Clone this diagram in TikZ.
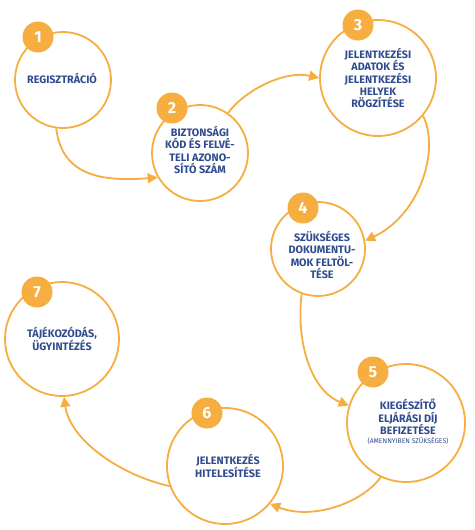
\documentclass[tikz,border=0pt]{standalone}
\usepackage{fontspec}
\setmainfont{Fira Sans}
\usetikzlibrary{arrows.meta}
\definecolor{orng}{HTML}{F5AE3F}
\definecolor{txtblue}{HTML}{2F4C8E}
\begin{document}
\begin{tikzpicture}[x=1pt,y=-1pt,
  stepcircle/.style={circle,draw=orng,line width=1.8pt,fill=white,inner sep=0pt},
  badge/.style={circle,fill=orng,minimum size=31pt,inner sep=0pt,text=white,font=\bfseries\fontsize{16}{16}\selectfont},
  steptext/.style={align=center,text=txtblue,font=\bfseries\fontsize{10.8}{12.4}\selectfont},
  conn/.style={draw=orng,line width=1.8pt,-{Triangle[length=10pt,width=10pt]}}]
\useasboundingbox (0,0) rectangle (474,530);
\fill[white] (0,0) rectangle (474,530);
% circles
\node[stepcircle,minimum size=96pt] (c1) at (63,80) {};
\node[stepcircle,minimum size=96pt] (c2) at (200,153) {};
\node[stepcircle,minimum size=116pt] (c3) at (378,78) {};
\node[stepcircle,minimum size=94pt] (c4) at (318,249) {};
\node[stepcircle,minimum size=118pt] (c5) at (406,423) {};
\node[stepcircle,minimum size=116pt] (c6) at (225,466) {};
\node[stepcircle,minimum size=114pt] (c7) at (62,339) {};
% connectors
\draw[conn] (c1.262) .. controls (62,175) and (100,182) .. (c2.210);
\draw[conn] (c2.55) .. controls (245,90) and (285,70) .. (c3.180);
\draw[conn] (c3.-40) .. controls (440,150) and (420,215) .. (c4.10);
\draw[conn] (c4.-110) .. controls (296,340) and (310,390) .. (c5.163);
\draw[conn] (c5.-115) .. controls (360,505) and (310,520) .. (c6.-40);
\draw[conn] (c6.200) .. controls (120,475) and (70,440) .. (c7.-88);
% badges
\node[badge] (b1) at (38,37) {1};
\node[badge] (b2) at (172,108) {2};
\node[badge] (b3) at (358,25) {3};
\node[badge] (b4) at (303,208) {4};
\node[badge] (b5) at (373,372) {5};
\node[badge] (b6) at (207,413) {6};
\node[badge] (b7) at (37,292) {7};
% texts
\node[steptext] (t1) at (62,78) {REGISZTRÁCIÓ};
\node[steptext] (t2) at (200,150) {BIZTONSÁGI\\KÓD ÉS FELVÉ-\\TELI AZONO-\\SÍTÓ SZÁM};
\node[steptext] (t3) at (378,78) {JELENTKEZÉSI\\ADATOK ÉS\\JELENTKEZÉSI\\HELYEK\\RÖGZÍTÉSE};
\node[steptext] (t4) at (322,255) {SZÜKSÉGES\\DOKUMENTU-\\MOK FELTÖL-\\TÉSE};
\node[steptext] (t5) at (408,417) {KIEGÉSZÍTŐ\\ELJÁRÁSI DÍJ\\BEFIZETÉSE};
\node[text=txtblue,font=\fontsize{6.8}{7}\selectfont] (t5b) at (408,441) {(AMENNYIBEN SZÜKSÉGES)};
\node[steptext] (t6) at (228,466) {JELENTKEZÉS\\HITELESÍTÉSE};
\node[steptext] (t7) at (62,339) {TÁJÉKOZÓDÁS,\\ÜGYINTÉZÉS};
\end{tikzpicture}
\end{document}
